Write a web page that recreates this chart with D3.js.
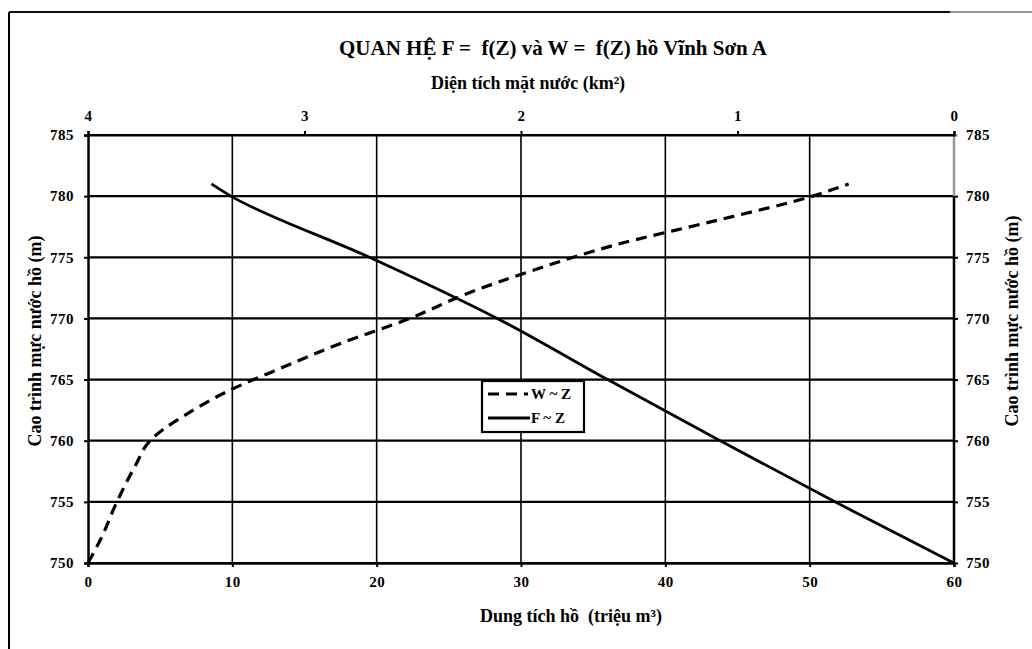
<!DOCTYPE html>
<html><head><meta charset="utf-8">
<script src="https://cdn.jsdelivr.net/npm/d3@7"></script>
<style>body{margin:0;background:#fff}svg{display:block}text{font-family:"Liberation Serif","Times New Roman",serif;font-weight:bold;fill:#000;white-space:pre}</style>
</head><body><svg id="c" width="1032" height="649"></svg>
<script>
// Data
const title = "QUAN HỆ F =  f(Z) và W =  f(Z) hồ Vĩnh Sơn A";
const topTitle = "Diện tích mặt nước (km²)";
const bottomTitle = "Dung tích hồ  (triệu m³)";
const yTitle = "Cao trình mực nước hồ (m)";
const zTicks = [750, 755, 760, 765, 770, 775, 780, 785];
const volTicks = [0, 10, 20, 30, 40, 50, 60];
const areaTicks = [4, 3, 2, 1, 0];
// W ~ Z (volume, million m3)
const wZ = [750, 752, 755, 758, 760, 761, 762, 764, 766, 768, 770, 772, 774, 776, 778, 780, 781];
const wV = [0, 0.9, 2.0, 3.3, 4.3, 5.3, 6.6, 9.6, 13.5, 17.6, 22.3, 26.2, 31.0, 36.5, 43.5, 50.2, 52.7];
// F ~ Z (area, km2)
const fZ = [750, 755, 760, 765, 770, 775, 780, 781];
const fA = [0, 0.55, 1.08, 1.60, 2.11, 2.70, 3.34, 3.43];

const svg = d3.select("#c");
const L = 88, R = 954, T = 135, B = 563;
const x = d3.scaleLinear().domain([0, 60]).range([L, R]);
const xTop = d3.scaleLinear().domain([4, 0]).range([L, R]);
const y = d3.scaleLinear().domain([750, 785]).range([B, T]);

// outer frame
svg.append("line").attr("x1", 9).attr("x2", 9).attr("y1", 12).attr("y2", 649).attr("stroke", "#000").attr("stroke-width", 2);
svg.append("line").attr("x1", 9).attr("x2", 950).attr("y1", 12).attr("y2", 12).attr("stroke", "#111").attr("stroke-width", 2);
svg.append("line").attr("x1", 950).attr("x2", 1032).attr("y1", 12).attr("y2", 12).attr("stroke", "#999").attr("stroke-width", 2);

// gridlines
svg.append("g").selectAll("line").data(volTicks.filter(d => d > 0 && d < 60)).join("line")
  .attr("x1", d => x(d)).attr("x2", d => x(d)).attr("y1", T).attr("y2", B)
  .attr("stroke", "#000").attr("stroke-width", 1.6);
svg.append("g").selectAll("line").data(zTicks).join("line")
  .attr("x1", L).attr("x2", R).attr("y1", d => y(d)).attr("y2", d => y(d))
  .attr("stroke", "#000").attr("stroke-width", 2.2);

// axes
const fmt = d3.format("d");
const gL = svg.append("g").attr("transform", `translate(${L},0)`).call(d3.axisLeft(y).tickValues(zTicks).tickFormat(fmt).tickSize(4).tickPadding(10));
const gR = svg.append("g").attr("transform", `translate(${R},0)`).call(d3.axisRight(y).tickValues(zTicks).tickFormat(fmt).tickSize(4).tickPadding(8));
const gB = svg.append("g").attr("transform", `translate(0,${B})`).call(d3.axisBottom(x).tickValues(volTicks).tickFormat(fmt).tickSize(4).tickPadding(9));
const gT = svg.append("g").attr("transform", `translate(0,${T})`).call(d3.axisTop(xTop).tickValues(areaTicks).tickFormat(fmt).tickSize(4).tickPadding(10));
[gL, gR, gB, gT].forEach(g => {
  g.select(".domain").attr("stroke", "#000").attr("stroke-width", 2.5);
  g.selectAll(".tick line").attr("stroke", "#000").attr("stroke-width", 2);
  g.selectAll("text").style("font-size", "15px").style("font-family", "'Liberation Serif',serif").style("font-weight", "bold").style("letter-spacing", "0.5px").attr("fill", "#000");
});
gT.select(".domain").attr("stroke-width", 2.2);
gR.select(".domain").remove();
gR.append("line").attr("x1", 0).attr("x2", 0).attr("y1", y(750)).attr("y2", y(780)).attr("stroke", "#000").attr("stroke-width", 2.5);
gR.append("line").attr("x1", 0).attr("x2", 0).attr("y1", y(780)).attr("y2", y(785)).attr("stroke", "#999").attr("stroke-width", 2.5);
gR.selectAll(".tick").filter(d => d > 780).select("line").attr("stroke", "#999");
gR.selectAll(".tick").filter(d => d >= 780).select("text").attr("fill", "#888");

// curves
const lineW = d3.line().x(d => x(d[1])).y(d => y(d[0])).curve(d3.curveMonotoneY);
const lineF = d3.line().x(d => xTop(d[1])).y(d => y(d[0])).curve(d3.curveMonotoneY);
svg.append("path").datum(wZ.map((z, i) => [z, wV[i]])).attr("d", lineW)
  .attr("fill", "none").attr("stroke", "#000").attr("stroke-width", 3.2).attr("stroke-dasharray", "11,7");
svg.append("path").datum(fZ.map((z, i) => [z, fA[i]])).attr("d", lineF)
  .attr("fill", "none").attr("stroke", "#000").attr("stroke-width", 2.8);

// titles
svg.append("text").attr("x", 553).attr("y", 55).attr("text-anchor", "middle").style("font-size", "21px").text(title);
svg.append("text").attr("x", 528).attr("y", 89).attr("text-anchor", "middle").style("font-size", "18px").text(topTitle);
svg.append("text").attr("x", 571).attr("y", 622).attr("text-anchor", "middle").style("font-size", "18px").text(bottomTitle);
svg.append("text").attr("transform", "translate(41,341) rotate(-90)").attr("text-anchor", "middle").style("font-size", "18px").text(yTitle);
svg.append("text").attr("transform", "translate(1018,321) rotate(-90)").attr("text-anchor", "middle").style("font-size", "18px").text(yTitle);

// legend
const lg = svg.append("g").attr("transform", "translate(482,381)");
lg.append("rect").attr("width", 102).attr("height", 51).attr("fill", "#fff").attr("stroke", "#000").attr("stroke-width", 2.2);
lg.append("line").attr("x1", 6).attr("x2", 46).attr("y1", 13).attr("y2", 13).attr("stroke", "#000").attr("stroke-width", 3.2).attr("stroke-dasharray", "11,7");
lg.append("line").attr("x1", 6).attr("x2", 48).attr("y1", 37).attr("y2", 37).attr("stroke", "#000").attr("stroke-width", 2.8);
lg.append("text").attr("x", 49).attr("y", 18).style("font-size", "15px").text("W ~ Z");
lg.append("text").attr("x", 49).attr("y", 42).style("font-size", "15px").text("F ~ Z");
</script></body></html>
